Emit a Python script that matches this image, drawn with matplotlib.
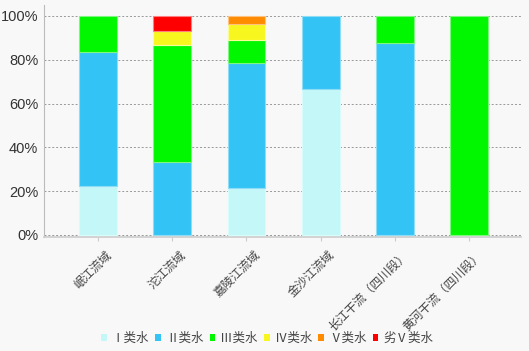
import matplotlib
matplotlib.use("Agg")
import matplotlib.pyplot as plt
import matplotlib.transforms as mtransforms
import numpy as np

plt.rcParams['font.family'] = ['Noto Sans CJK SC', 'DejaVu Sans']

# categories (river basins) and water-quality share per class (%)
basins = ['岷江流域', '沱江流域', '嘉陵江流域', '金沙江流域', '长江干流（四川段）', '黄河干流（四川段）']
classes = ['Ⅰ类水', 'Ⅱ类水', 'Ⅲ类水', 'Ⅳ类水', 'Ⅴ类水', '劣Ⅴ类水']

class1 = [22.2, 0, 21.4, 66.7, 0, 0]
class2 = [61.1, 33.3, 57.1, 33.3, 87.5, 0]
class3 = [16.7, 53.3, 10.7, 0, 12.5, 100]
class4 = [0, 6.7, 7.1, 0, 0, 0]
class5 = [0, 0, 3.7, 0, 0, 0]
class6 = [0, 6.7, 0, 0, 0, 0]

colors = ['#c4f7f7', '#33c3f5', '#00f700', '#f7f71f', '#ff8c00', '#ff0000']
edges = ['#d8fbfb', '#8fdcf7', '#7ff77f', '#fbfb9a', '#ffc27f', '#ff8080']

fig = plt.figure(figsize=(5.29, 3.51), dpi=100, facecolor='#f8f8f8')
ax = fig.add_axes([0.083, 0.325, 0.902, 0.661])
ax.set_facecolor('#f8f8f8')

x = np.arange(len(basins))
series = [class1, class2, class3, class4, class5, class6]
bottom = np.zeros(len(basins))
for vals, c, ec, lab in zip(series, colors, edges, classes):
    v = np.array(vals) / 100.0
    # legend handle
    ax.bar([0], [0], width=0, color=c, label=lab)
    nz = v > 0
    ax.bar(x[nz], v[nz], width=0.51, bottom=bottom[nz], color=c, edgecolor=ec,
           linewidth=0.8, zorder=3)
    bottom += v

ax.set_xlim(-0.73, 5.7)
ax.set_ylim(-0.009, 1.05)
ax.set_yticks([0, 0.2, 0.4, 0.6, 0.8, 1.0])
ax.set_yticklabels(['0%', '20%', '40%', '60%', '80%', '100%'], fontsize=10.5, color='#333333',
                   family=['Liberation Sans'])
ax.grid(axis='y', linestyle=(0, (2, 2)), color='#999999', linewidth=0.7, zorder=0)
ax.tick_params(axis='y', length=0, pad=4)
ax.tick_params(axis='x', length=3, color='#cccccc', pad=5)

ax.set_xticks(x)
ax.set_xticklabels(basins, rotation=45, ha='right', va='top', rotation_mode='anchor',
                   fontsize=8.6, color='#444444')
offset = mtransforms.ScaledTranslation(0.07, 0, fig.dpi_scale_trans)
for t in ax.get_xticklabels():
    t.set_transform(t.get_transform() + offset)

for s in ['top', 'right']:
    ax.spines[s].set_visible(False)
ax.spines['left'].set_color('#bbbbbb')
ax.spines['bottom'].set_color('#cccccc')
ax.spines['bottom'].set_linewidth(1.2)

fig.legend(loc='center', bbox_to_anchor=(0.505, 0.035), ncol=6, frameon=False,
           fontsize=9, handlelength=0.45, handleheight=0.45, handletextpad=0.4,
           columnspacing=0.5, labelcolor='#444444')

fig.savefig('out.png', dpi=100, facecolor=fig.get_facecolor())
